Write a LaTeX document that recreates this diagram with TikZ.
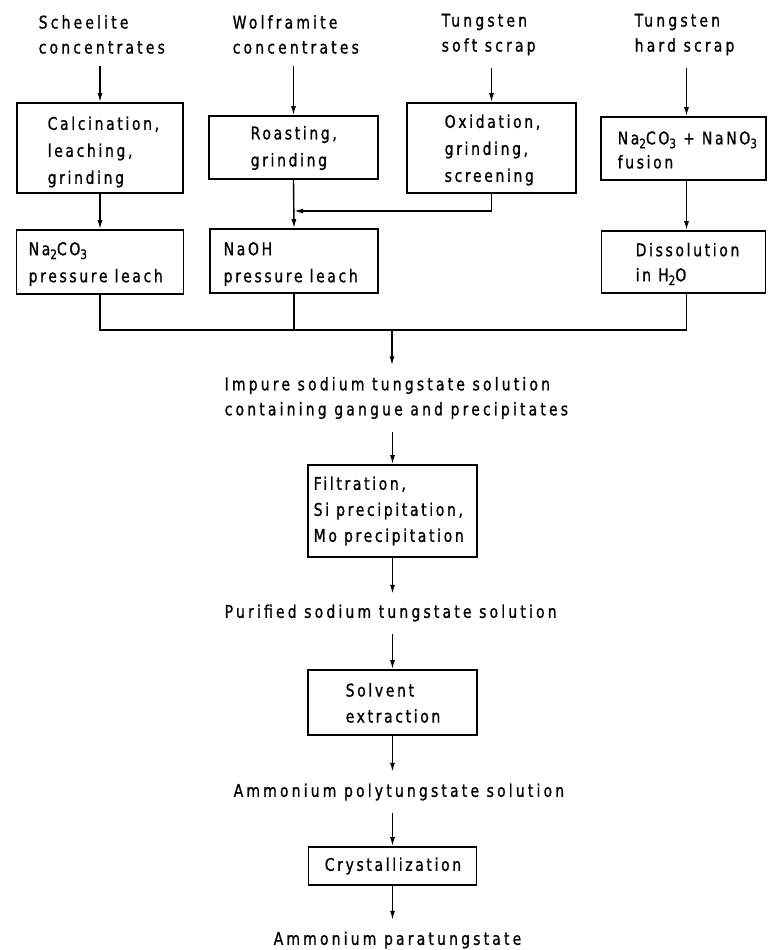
\documentclass[tikz,border=0pt]{standalone}
\usepackage{fontspec}
\setmainfont{DejaVu Sans}[FakeStretch=0.8,LetterSpace=18,FakeBold=1]
\newfontfamily\boxfont{DejaVu Sans}[FakeStretch=0.8,LetterSpace=15,FakeBold=1]
\usetikzlibrary{arrows.meta,calc}
\newcommand\lsub[1]{\raisebox{-0.4ex}{\fontsize{13}{13}\selectfont #1}}
\begin{document}
\begin{tikzpicture}[x=1pt,y=-1pt, line width=1.4pt,
  box/.style={draw, line width=1.7pt, inner sep=0pt},
  lbl/.style={font=\fontsize{17.5}{25}\selectfont, align=left, inner sep=0pt, anchor=west},
  blbl/.style={font=\boxfont\fontsize{17.5}{27}\selectfont, align=left, inner sep=0pt, anchor=west},
  arr/.style={-{Latex[length=9pt,width=5pt]}},
 ]
\useasboundingbox (0,0) rectangle (768,950);

% input labels
\node[lbl] (L1) at (38,34.5) {Scheelite\\concentrates};
\node[lbl] (L2) at (232,34.5) {Wolframite\\concentrates};
\node[lbl] (L3) at (441,34.5) {Tungsten\\soft scrap};
\node[lbl] (L4) at (634,34.5) {Tungsten\\hard scrap};

% boxes
\node[box, minimum width=166pt, minimum height=90pt] (b1) at (100,148) {};
\node[box, minimum width=167pt, minimum height=64pt] (b2) at (100,262) {};
\node[box, minimum width=169pt, minimum height=63pt] (b3) at (293.5,147.5) {};
\node[box, minimum width=168pt, minimum height=64pt] (b4) at (294,261) {};
\node[box, minimum width=169pt, minimum height=90pt] (b5) at (491.5,148) {};
\node[box, minimum width=165pt, minimum height=63pt] (b6) at (683.5,148.5) {};
\node[box, minimum width=164pt, minimum height=62pt] (b7) at (683.5,262) {};
\node[box, minimum width=169pt, minimum height=92pt] (b8) at (392.5,511) {};
\node[box, minimum width=169pt, minimum height=65pt] (b9) at (392.5,702.5) {};
\node[box, minimum width=168pt, minimum height=38pt] (b10) at (392.5,866) {};

% box texts
\node[blbl] (t1) at (47,152) {Calcination,\\leaching,\\grinding};
\node[blbl] (t2) at (28,264) {Na\lsub{2}CO\lsub{3}\\pressure leach};
\node[blbl] (t3) at (250,148) {Roasting,\\grinding};
\node[blbl] (t4) at (223,264) {NaOH\\pressure leach};
\node[blbl] (t5) at (444,150) {Oxidation,\\grinding,\\screening};
\node[blbl, font=\boxfont\fontsize{17.5}{24}\selectfont] (t6) at (617,150) {Na\lsub{2}CO\lsub{3} + NaNO\lsub{3}\\fusion};
\node[blbl, font=\boxfont\fontsize{17.5}{25}\selectfont] (t7) at (635,264) {Dissolution\\in H\lsub{2}O};
\node[blbl, font=\boxfont\fontsize{17.5}{26}\selectfont] (t8) at (313,511) {Filtration,\\Si precipitation,\\Mo precipitation};
\node[blbl, font=\boxfont\fontsize{17.5}{26}\selectfont] (t9) at (345,703) {Solvent\\extraction};
\node[blbl, anchor=center] (t10) at (393,866) {Crystallization};

% intermediate products
\node[lbl] (imp) at (224,398) {Impure sodium tungstate solution\\containing gangue and precipitates};
\node[lbl] (pur) at (224,613) {Purified sodium tungstate solution};
\node[lbl] (poly) at (233,792) {Ammonium polytungstate solution};
\node[lbl] (para) at (273,940) {Ammonium paratungstate};

% connectors
\draw[arr, shorten <=12pt] (b1.north |- L1.south) -- (b1.north);
\draw[arr, shorten <=12pt] (b3.north |- L2.south) -- (b3.north);
\draw[arr, shorten <=12pt] (b5.north |- L3.south) -- (b5.north);
\draw[arr, shorten <=12pt] ($(L4.south -| b6.north)+(3,0)$) -- ($(b6.north)+(3,0)$);
\draw[arr] (b1.south) -- (b2.north);
\draw[arr] (b3.south) -- (b4.north);
\coordinate (j) at (294,211);
\draw[arr] (b5.south) |- (j);
\draw[arr] ($(b6.south)+(3,0)$) -- ($(b7.north)+(3,0)$);

\coordinate (c) at (392,330);
\draw (b2.south) -- (b2.south |- c) -- ($(b7.south |- c)+(3,0)$) -- ($(b7.south)+(3,0)$);
\draw (b4.south) -- (b4.south |- c);
\draw[arr, shorten >=11pt] (c) -- (c |- imp.north);
\draw[arr, shorten <=12pt] (b8.north |- imp.south) -- (b8.north);
\draw[arr, shorten >=10pt] (b8.south) -- (b8.south |- pur.north);
\draw[arr, shorten <=12pt] (b9.north |- pur.south) -- (b9.north);
\draw[arr, shorten >=11pt] (b9.south) -- (b9.south |- poly.north);
\draw[arr, shorten <=12pt] (b10.north |- poly.south) -- (b10.north);
\draw[arr, shorten >=11pt] (b10.south) -- (b10.south |- para.north);
\end{tikzpicture}
\end{document}
